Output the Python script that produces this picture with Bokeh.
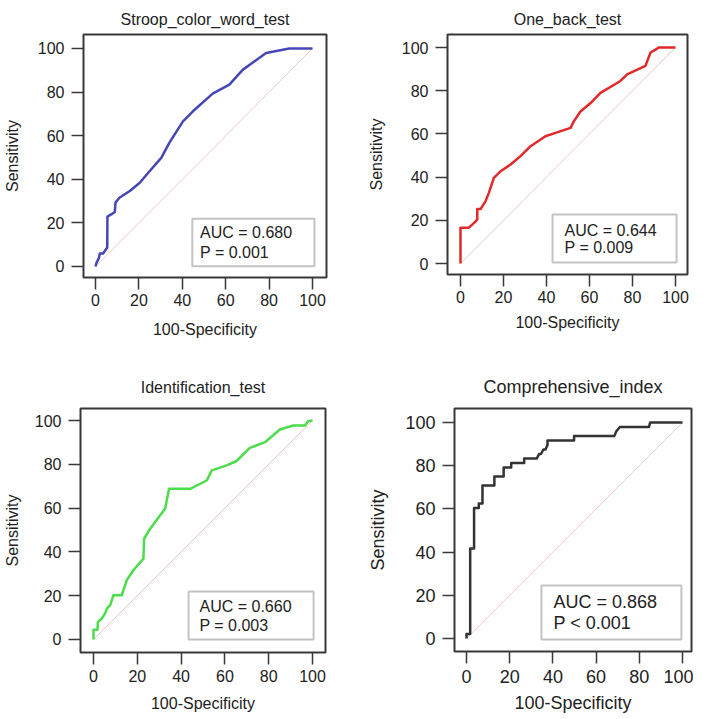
from bokeh.plotting import figure
from bokeh.layouts import column, row
from bokeh.models import Range1d, FixedTicker, BoxAnnotation, Label
from bokeh.embed import file_html
from bokeh.resources import INLINE

# ---------------- data ----------------
tick_values = [0, 20, 40, 60, 80, 100]
panel_titles = ["Stroop_color_word_test", "One_back_test",
                "Identification_test", "Comprehensive_index"]
auc_values = ["0.680", "0.644", "0.660", "0.868"]
p_texts = ["P = 0.001", "P = 0.009", "P = 0.003", "P < 0.001"]

stroop_x = [0, 0.5, 1.5, 2, 3.5, 5.4, 5.5, 7.4, 8.9, 9.2, 11, 15.8, 20.4, 25, 30.3,
            34, 40.3, 44.9, 54, 61.7, 67.8, 78.6, 89.3, 100]
stroop_y = [0, 1.8, 3.7, 6, 6, 8.7, 22.9, 24, 25, 29.3, 31.5, 34.6, 38.4, 43.8, 49.8,
            56.7, 66.6, 71.2, 79.3, 83.4, 90.2, 97.9, 100, 100]

oneback_x = [0, 0, 3.9, 6.2, 7.8, 7.8, 9.3, 11.6, 13.2, 15.5, 18.6, 23.3, 27.9, 32.6,
             39.5, 44.2, 51.2, 52.7, 55.8, 60.5, 65.1, 74.4, 77.5, 86, 88.4, 91.5, 92.2, 100]
oneback_y = [0, 16.6, 16.6, 18.7, 20.3, 25.2, 25.2, 28.8, 32.7, 39.6, 42.7, 45.8, 49.7, 54.3,
             58.9, 60.5, 62.8, 65.8, 70.4, 74.3, 79, 84.5, 87.6, 91.5, 97.7, 99.5, 100, 100]

ident_x = [0, 0, 1.8, 2, 3.8, 5.3, 6.1, 7.6, 9.1, 12.9, 15.2, 18.2, 22.8, 23.1, 25.8,
           28.9, 32.7, 34.5, 44.1, 51.7, 54, 60.8, 65.3, 71.4, 78.3, 85.1, 91.2, 96.5, 98, 100]
ident_y = [0, 4.5, 4.5, 8, 9.6, 11.9, 14.1, 15.7, 20.2, 20.2, 27.1, 31.6, 36.9, 46, 50.5,
           54.7, 59.7, 68.8, 68.8, 72.6, 77.2, 79.5, 81.5, 87.5, 90.1, 95.9, 97.7, 97.7, 99.7, 100]

comp_x = [0, 0, 1.7, 1.7, 3.5, 3.5, 5.7, 5.7, 7.4, 7.4, 12.9, 12.9, 17.2, 17.2, 20.7, 20.7,
          26.7, 26.7, 32.5, 33.6, 34.5, 35.6, 36.6, 37.5, 37.5, 49.8, 49.8, 68.5, 69.3, 71,
          84.5, 85, 100]
comp_y = [0, 2.1, 2.1, 41.7, 41.7, 60.4, 60.4, 62.5, 62.5, 70.8, 70.8, 75.0, 75.0, 79.2, 79.2, 81.2,
          81.2, 83.3, 83.3, 85.4, 85.4, 87.5, 87.5, 89.6, 91.7, 91.7, 93.8, 93.8, 95.8, 97.9,
          97.9, 100, 100]

diag = [0, 100]

FONT = "Liberation Sans"
DARK = "#383838"
TXT = "#222222"


def make_panel(title, xs, ys, color, auc, ptxt, fw, fh, mb, xr, yr, box, txt,
               fs_tick, fs_lab, fs_title, fs_txt, title_standoff, title_valign,
               ylab_standoff, xlab_standoff, tick_standoff):
    p = figure(frame_width=fw, frame_height=fh, output_backend="svg", toolbar_location=None,
               x_range=Range1d(*xr), y_range=Range1d(*yr),
               min_border_left=mb[0], min_border_right=mb[1],
               min_border_top=mb[2], min_border_bottom=mb[3],
               title=title)
    p.background_fill_color = "white"
    p.border_fill_color = "white"
    p.outline_line_color = DARK
    p.outline_line_width = 2
    p.outline_line_alpha = 1
    p.grid.visible = False

    p.title.align = "center"
    p.title.vertical_align = title_valign
    p.title.text_font = FONT
    p.title.text_font_size = fs_title
    p.title.text_font_style = "normal"
    p.title.text_color = TXT
    p.title.standoff = title_standoff

    for ax in (p.xaxis[0], p.yaxis[0]):
        ax.ticker = FixedTicker(ticks=tick_values)
        ax.axis_line_color = None
        ax.major_tick_out = 12
        ax.major_tick_in = 0
        ax.major_tick_line_color = DARK
        ax.major_tick_line_width = 1.5
        ax.minor_tick_line_color = None
        ax.major_label_text_font = FONT
        ax.major_label_text_font_size = fs_tick
        ax.major_label_text_color = TXT
        ax.axis_label_text_font = FONT
        ax.axis_label_text_font_size = fs_lab
        ax.axis_label_text_font_style = "normal"
        ax.axis_label_text_color = TXT
    p.xaxis.axis_label = "100-Specificity"
    p.yaxis.axis_label = "Sensitivity"
    p.xaxis.major_label_standoff = tick_standoff
    p.yaxis.major_label_standoff = 7
    p.yaxis.axis_label_standoff = ylab_standoff
    p.xaxis.axis_label_standoff = xlab_standoff

    p.line(diag, diag, line_color="#F0C8C8", line_width=1)
    p.line(xs, ys, line_color=color, line_width=2.5, line_join="round")

    p.add_layout(BoxAnnotation(left=box[0], right=box[1], bottom=box[2], top=box[3],
                               fill_alpha=0, line_color=DARK, line_width=2))
    p.add_layout(Label(x=txt[0], y=txt[1], text="AUC = " + auc, text_baseline="middle",
                       text_align="left", text_font=FONT, text_font_size=fs_txt,
                       text_color=TXT))
    p.add_layout(Label(x=txt[0], y=txt[2], text=ptxt, text_baseline="middle",
                       text_align="left", text_font=FONT, text_font_size=fs_txt,
                       text_color=TXT))
    return p


p1 = make_panel(panel_titles[0], stroop_x, stroop_y, "#4646B6", auc_values[0], p_texts[0],
                243, 243, (76, 27, 34, 83), (-5.53, 106.45), (-5.05, 106.42),
                (44.6, 100.9, 0.1, 21.9), (48.2, 15.6, 6.4),
                "16px", "16px", "16px", "16px", 10, "top", 14, 12, 4)
p2 = make_panel(panel_titles[1], oneback_x, oneback_y, "#E22828", auc_values[1], p_texts[1],
                240, 240, (94, 12, 34, 86), (-6.05, 105.58), (-5.09, 106.02),
                (42.8, 100.5, 0.5, 22.7), (48.4, 15.3, 7.4),
                "16px", "16px", "16px", "16px", 10, "top", 14, 8, 4)
p3 = make_panel(panel_titles[2], ident_x, ident_y, "#4CDC4C", auc_values[2], p_texts[2],
                245, 244, (79, 22, 48, 59), (-5.94, 105.93), (-5.94, 105.48),
                (43.4, 100.5, 0.0, 21.9), (48.4, 15.1, 6.4),
                "16px", "16px", "16px", "16px", 26, "bottom", 11, 10, 5)
p4 = make_panel(panel_titles[3], comp_x, comp_y, "#333333", auc_values[3], p_texts[3],
                237, 243, (107, 2, 47, 61), (-5.56, 104.17), (-6.02, 106.48),
                (34.7, 99.5, -0.5, 24.5), (40.3, 17.1, 7.4),
                "18px", "18px", "18px", "18px", 24, "bottom", 14, 7, 6)

layout = column(row(p1, p2), row(p3, p4))
open("out.html", "w").write(file_html(layout, INLINE))
